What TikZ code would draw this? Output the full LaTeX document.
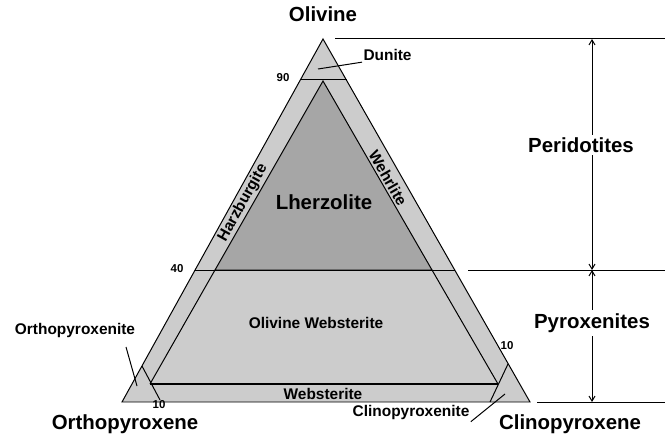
\documentclass[tikz,border=0pt]{standalone}
\usepackage{fontspec}
\setmainfont{Liberation Sans}
\usepackage{xcolor}
\usepackage{tikz}
\usetikzlibrary{arrows.meta}
\definecolor{peridlight}{HTML}{CCCCCC}
\definecolor{peridark}{HTML}{A6A6A6}

\tikzset{
  rocklbl/.style={font=\bfseries\fontsize{15.5}{18}\selectfont, inner sep=1pt},
  endlbl/.style={font=\bfseries\fontsize{20.5}{24}\selectfont, inner sep=1pt},
  pctlbl/.style={font=\bfseries\fontsize{11.5}{13}\selectfont, inner sep=0pt},
  dimline/.style={line width=1pt, {Straight Barb[length=5pt,width=6pt]}-{Straight Barb[length=5pt,width=6pt]}}
}

\begin{document}
\begin{tikzpicture}[x=1bp, y=-1bp, line width=1pt]
    \useasboundingbox (0,0) rectangle (665,438);
    % outer triangle
    \coordinate (ol) at (323,39);
    \coordinate (opx) at (122,402);
    \coordinate (cpx) at (530,402);
    \draw[fill=peridlight] (ol) -- (opx) -- (cpx) -- cycle;
    % lherzolite field
    \coordinate (lzt) at (323,81);
    \coordinate (lzl) at (215,270);
    \coordinate (lzr) at (432,270);
    \draw[fill=peridark] (lzt) -- (lzl) -- (lzr) -- cycle;
    % olivine websterite field
    \coordinate (wbl) at (150,384);
    \coordinate (wbr) at (498,384);
    \draw (lzl) -- (wbl);
    \draw (lzr) -- (wbr);
    \draw[line width=2.5pt] (wbl) -- (wbr);
    % 90 and 40 lines
    \draw (301,80) -- (347,80);
    \draw (195,270) -- (455,270);
    % 10 lines at the pyroxene corners
    \draw (142,366) -- (160,400);
    \draw (508,364) -- (490,402);

    \node[endlbl] (olivine) at (323,14) {Olivine};
    \node[endlbl] (orthopx) at (125,424) {Orthopyroxene};
    \node[endlbl] (clinopx) at (570,424) {Clinopyroxene};

    \node[pctlbl] (p90) at (283,78) {90};
    \node[pctlbl] (p40) at (177,269) {40};
    \node[pctlbl] (p10a) at (159,405) {10};
    \node[pctlbl] (p10b) at (507,346) {10};

    \node[font=\bfseries\fontsize{20.5}{24}\selectfont] (lherz) at (324,202) {Lherzolite};
    \node[rocklbl] (olweb) at (316,323) {Olivine Websterite};
    \node[rocklbl] (webst) at (323,394) {Websterite};
    \node[rocklbl, rotate=61] (harz) at (243,203) {Harzburgite};
    \node[rocklbl, rotate=-60] (wehr) at (388,178) {Wehrlite};

    \node[rocklbl, anchor=west] (dunite) at (362,55) {Dunite};
    \coordinate (dunpt) at (318,69);
    \draw (dunpt) -- (dunite.south west);

    \node[rocklbl] (orthoite) at (75,331) {Orthopyroxenite};
    \coordinate (orthopt) at (137,386);
    \draw (126,347) -- (orthopt);

    \node[rocklbl] (clinoite) at (411,413) {Clinopyroxenite};
    \coordinate (clinopt) at (505,394);
    \draw (clinoite.south east) -- (clinopt);

    % groups on the right
    \coordinate (gtop) at (592,39);
    \coordinate (gmid) at (592,270);
    \coordinate (gbot) at (592,402);
    \draw (335,39) -- (665,39);
    \draw (468,270) -- (665,270);
    \draw (537,402) -- (665,402);
    \draw[dimline] (gtop) -- (gmid);
    \draw[dimline] (gmid) -- (gbot);
    \node[endlbl, fill=white, inner sep=3pt] (perid) at (581,145) {Peridotites};
    \node[endlbl, fill=white, inner sep=3pt] (pyrox) at (592,323) {Pyroxenites};
  \end{tikzpicture}
\end{document}
